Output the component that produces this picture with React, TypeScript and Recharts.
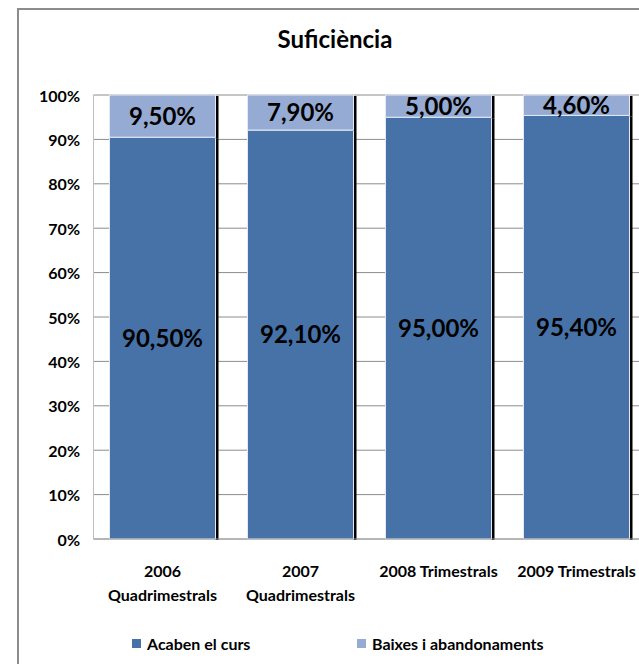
import React from 'react';
import { BarChart, Bar, XAxis, YAxis, CartesianGrid, LabelList } from 'recharts';

const categories = ['2006 Quadrimestrals', '2007 Quadrimestrals', '2008 Trimestrals', '2009 Trimestrals'];
const acaben = [90.5, 92.1, 95.0, 95.4];
const baixes = [9.5, 7.9, 5.0, 4.6];
const yTicks = [0, 10, 20, 30, 40, 50, 60, 70, 80, 90, 100];
const seriesNames = ['Acaben el curs', 'Baixes i abandonaments'];
const seriesColors = ['#4672a8', '#95abd3'];

const data = categories.map((name, i) => ({ name, acaben: acaben[i], baixes: baixes[i] }));

const FONT = 'Lato, "Open Sans", sans-serif';

const fmt = (v: number) => v.toFixed(2).replace('.', ',') + '%';

const ShadowBar = (props: any) => {
  const { x, y, width, height, fill } = props;
  return (
    <g>
      <rect x={x + width} y={y + 1} width={3} height={height} fill="#000" />
      <rect x={x} y={y} width={width} height={height} fill={fill} stroke="#e4eaf4" strokeWidth={1} />
    </g>
  );
};

const YTick = (props: any) => {
  const { y, payload } = props;
  return (
    <text x={80} y={y} textAnchor="end" dominantBaseline="central" fontFamily={FONT} fontWeight={700} fontSize={16} fill="#000">
      {payload.value}%
    </text>
  );
};

const XTick = (props: any) => {
  const { x, y, payload } = props;
  const label: string = payload.value;
  const lines = label.length > 16 ? label.split(' ') : [label];
  return (
    <g>
      {lines.map((l, i) => (
        <text key={i} x={x} y={y + 23 + i * 24} textAnchor="middle" dominantBaseline="central" fontFamily={FONT} fontWeight={700} fontSize={16} fill="#000">
          {l}
        </text>
      ))}
    </g>
  );
};

const legendLeft = [132, 357];

export default function App() {
  return (
    <div style={{ position: 'absolute', left: 0, top: 0, width: 639, height: 664, overflow: 'hidden', background: '#fff' }}>
      <div style={{ position: 'absolute', left: 17, top: 8, width: 700, height: 700, border: '2px solid #8c8c8c', boxSizing: 'border-box' }} />
      <div style={{ position: 'absolute', left: 235, width: 200, top: 24, textAlign: 'center', fontFamily: FONT, fontWeight: 700, fontSize: 24, color: '#000' }}>
        Suficiència
      </div>
      <div style={{ position: 'absolute', left: 0, top: 0 }}>
        <BarChart width={700} height={664} data={data} margin={{ top: 95, right: 54.5, left: 0, bottom: 65 }} barSize={106}>
          <CartesianGrid vertical={false} stroke="#8c8c8c" />
          <XAxis dataKey="name" axisLine={{ stroke: '#a6a6a6' }} tickLine={false} tick={<XTick />} height={60} interval={0} />
          <YAxis type="number" domain={[0, 100]} ticks={yTicks} width={93.5} axisLine={{ stroke: '#bfbfbf' }} tickLine={false} tick={<YTick />} />
          <Bar dataKey="acaben" stackId="a" fill={seriesColors[0]} shape={<ShadowBar />} isAnimationActive={false}>
            <LabelList dataKey="acaben" position="center" formatter={(v: any) => fmt(Number(v))} fill="#000" fontFamily={FONT} fontWeight={700} fontSize={24} />
          </Bar>
          <Bar dataKey="baixes" stackId="a" fill={seriesColors[1]} shape={<ShadowBar />} isAnimationActive={false}>
            <LabelList dataKey="baixes" position="center" formatter={(v: any) => fmt(Number(v))} fill="#000" fontFamily={FONT} fontWeight={700} fontSize={24} />
          </Bar>
        </BarChart>
      </div>
      {seriesNames.map((n, i) => (
        <div key={n} style={{ position: 'absolute', top: 634, left: legendLeft[i], display: 'flex', alignItems: 'center', fontFamily: FONT, fontWeight: 700, fontSize: 16, color: '#000' }}>
          <span style={{ width: 9, height: 9, background: seriesColors[i], marginRight: 6, display: 'inline-block' }} />
          <span>{n}</span>
        </div>
      ))}
    </div>
  );
}
